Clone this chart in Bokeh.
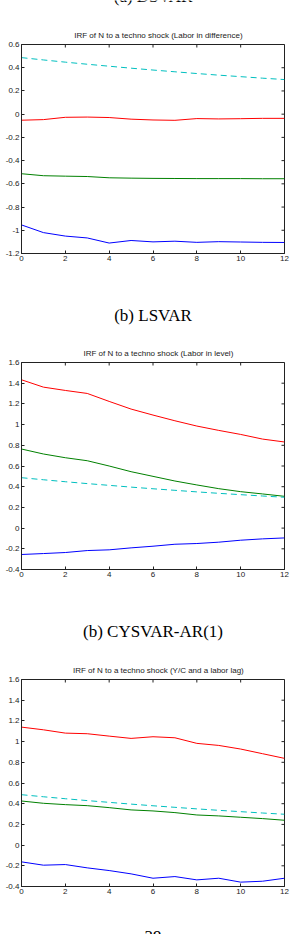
import math

from bokeh.plotting import figure
from bokeh.layouts import column
from bokeh.models import Range1d, LinearAxis, FixedTicker, CustomJSTickFormatter
from bokeh.core.properties import value
from bokeh.embed import file_html
from bokeh.resources import INLINE

# Impulse responses of hours (N) to a technology shock, horizons 0..12
horizons = list(range(13))

# Theoretical response (dashed, common to all three panels)
model_irf = [0.487, 0.467, 0.448, 0.430, 0.413, 0.396, 0.380, 0.365, 0.350, 0.336, 0.323, 0.310, 0.298]

# (a) DSVAR: labor in difference
dsvar_upper = [-0.052, -0.047, -0.027, -0.025, -0.029, -0.043, -0.050, -0.053, -0.038, -0.041, -0.039, -0.036, -0.036]
dsvar_est = [-0.513, -0.530, -0.534, -0.537, -0.548, -0.551, -0.553, -0.554, -0.555, -0.555, -0.555, -0.556, -0.556]
dsvar_lower = [-0.954, -1.020, -1.050, -1.066, -1.110, -1.088, -1.100, -1.094, -1.104, -1.098, -1.101, -1.104, -1.105]

# (b) LSVAR: labor in level
lsvar_upper = [1.433, 1.362, 1.330, 1.301, 1.224, 1.150, 1.092, 1.037, 0.986, 0.944, 0.905, 0.860, 0.832]
lsvar_est = [0.764, 0.716, 0.680, 0.651, 0.600, 0.545, 0.500, 0.455, 0.417, 0.381, 0.352, 0.330, 0.307]
lsvar_lower = [-0.255, -0.246, -0.236, -0.217, -0.210, -0.191, -0.175, -0.156, -0.149, -0.136, -0.117, -0.104, -0.095]

# (b) CYSVAR-AR(1): Y/C and a labor lag
cysvar_upper = [1.140, 1.114, 1.082, 1.076, 1.053, 1.031, 1.047, 1.037, 0.983, 0.963, 0.928, 0.883, 0.838]
cysvar_est = [0.426, 0.404, 0.391, 0.381, 0.362, 0.340, 0.330, 0.314, 0.291, 0.282, 0.269, 0.256, 0.240]
cysvar_lower = [-0.162, -0.194, -0.188, -0.220, -0.246, -0.278, -0.320, -0.304, -0.336, -0.320, -0.358, -0.349, -0.320]

x_ticks = [0, 2, 4, 6, 8, 10, 12]
y_ticks_a = [-1.2, -1.0, -0.8, -0.6, -0.4, -0.2, 0.0, 0.2, 0.4, 0.6]
y_ticks_b = [-0.4, -0.2, 0.0, 0.2, 0.4, 0.6, 0.8, 1.0, 1.2, 1.4, 1.6]

titles = [
    "IRF of N to a techno shock (Labor in difference)",
    "IRF of N to a techno shock (Labor in level)",
    "IRF of N to a techno shock (Y/C and a labor lag)",
]
captions = ["(a) DSVAR", "(b) LSVAR", "(b) CYSVAR-AR(1)", "39"]

W = 293
SANS = "Liberation Sans"
SERIF = "Liberation Serif"
INK = "#222222"

BLUE = "#0000ff"
GREEN = "#008000"
RED = "#ff0000"
CYAN = "#00bfbf"

TICK_LEN = 3

fmt = CustomJSTickFormatter(code="return Number(tick.toFixed(1)).toString();")


def style_axis(ax, ticks):
    ax.ticker = FixedTicker(ticks=ticks)
    ax.formatter = fmt
    ax.axis_line_color = INK
    ax.axis_line_width = 1
    ax.major_tick_line_color = INK
    ax.major_tick_in = TICK_LEN
    ax.major_tick_out = 0
    ax.minor_tick_line_color = None
    ax.major_label_text_font = SANS
    ax.major_label_text_font_size = "8px"
    ax.major_label_text_color = INK
    ax.major_label_standoff = 2


def panel(frame_h, y_lo, y_hi, y_ticks, lower, est, upper):
    p = figure(
        width=W, height=4 + frame_h + 14,
        x_range=Range1d(0, 12), y_range=Range1d(y_lo, y_hi),
        x_axis_type=None, y_axis_type=None,
        title=None, toolbar_location=None, output_backend="svg",
        min_border_left=21, min_border_right=9,
        min_border_top=4, min_border_bottom=14,
    )
    p.grid.visible = False
    p.outline_line_color = INK
    p.outline_line_width = 1
    p.background_fill_color = "white"
    p.border_fill_color = "white"

    bottom = LinearAxis()
    style_axis(bottom, x_ticks)
    p.add_layout(bottom, "below")
    left = LinearAxis()
    style_axis(left, y_ticks)
    p.add_layout(left, "left")

    # inward ticks on the top and right edges of the box
    p.ray(x=x_ticks, y=[y_hi] * len(x_ticks), length=TICK_LEN, length_units="screen",
          angle=-math.pi / 2, line_color=INK, line_width=1)
    p.ray(x=[12] * len(y_ticks), y=y_ticks, length=TICK_LEN, length_units="screen",
          angle=math.pi, line_color=INK, line_width=1)

    p.line(horizons, lower, line_color=BLUE, line_width=1)
    p.line(horizons, est, line_color=GREEN, line_width=1)
    p.line(horizons, upper, line_color=RED, line_width=1)
    p.line(horizons, model_irf, line_color=CYAN, line_width=1, line_dash="6 4")
    return p


def text_strip(h, items):
    # items: (x, y, text, font, size) in pixel coordinates, y measured downward
    p = figure(
        width=W, height=h,
        x_range=Range1d(0, W), y_range=Range1d(h, 0),
        x_axis_type=None, y_axis_type=None,
        title=None, toolbar_location=None, output_backend="svg",
        min_border=0,
    )
    p.grid.visible = False
    p.outline_line_color = None
    p.border_fill_color = "white"
    p.background_fill_color = "white"
    for x, y, txt, font, size in items:
        p.text(x=[x], y=[y], text=[txt], text_align="center", text_baseline="alphabetic",
               text_font=value(font), text_font_size=size,
               text_color="black" if font == SERIF else INK)
    return p


strip_a = text_strip(40, [(146.5, -4, captions[0], SERIF, "17px"),
                          (152.5, 34.5, titles[0], SANS, "8px")])
p1 = panel(209, -1.2, 0.6, y_ticks_a, dsvar_lower, dsvar_est, dsvar_upper)
strip_b = text_strip(91, [(146.5, 47.5, captions[1], SERIF, "17px"),
                          (152.5, 85.5, titles[1], SANS, "8px")])
p2 = panel(207, -0.4, 1.6, y_ticks_b, lsvar_lower, lsvar_est, lsvar_upper)
strip_c = text_strip(92, [(146.5, 48, captions[2], SERIF, "17px"),
                          (152.5, 86.5, titles[2], SANS, "8px")])
p3 = panel(207, -0.4, 1.6, y_ticks_b, cysvar_lower, cysvar_est, cysvar_upper)
strip_d = text_strip(34, [(146.5, 35.5, captions[3], SERIF, "17px")])

page = column(strip_a, p1, strip_b, p2, strip_c, p3, strip_d, spacing=0)

open("out.html", "w").write(file_html(page, INLINE))
